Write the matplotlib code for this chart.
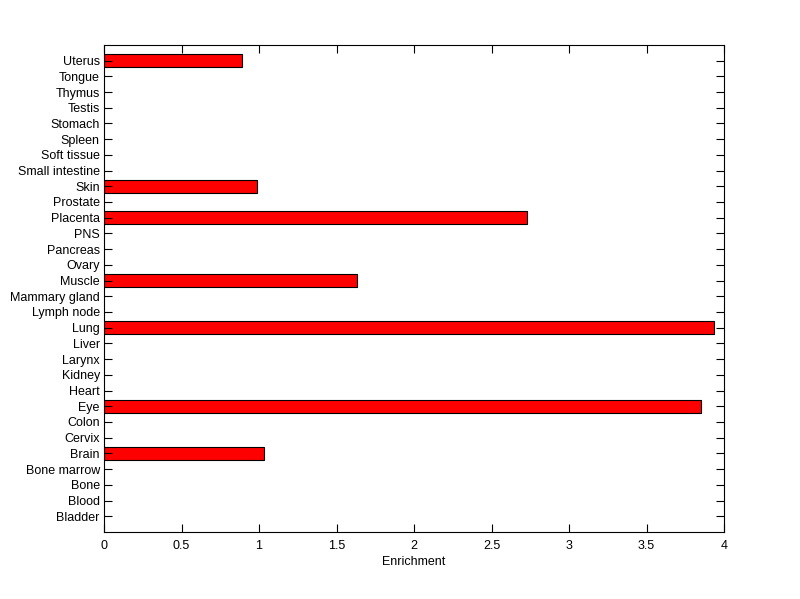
import numpy as np
import matplotlib
matplotlib.use("Agg")
import matplotlib.pyplot as plt

tissues = ["Bladder", "Blood", "Bone", "Bone marrow", "Brain", "Cervix", "Colon",
           "Eye", "Heart", "Kidney", "Larynx", "Liver", "Lung", "Lymph node",
           "Mammary gland", "Muscle", "Ovary", "Pancreas", "PNS", "Placenta",
           "Prostate", "Skin", "Small intestine", "Soft tissue", "Spleen",
           "Stomach", "Testis", "Thymus", "Tongue", "Uterus"]
enrichment = [0, 0, 0, 0, 1.03, 0, 0,
              3.85, 0, 0, 0, 0, 3.935, 0,
              0, 1.63, 0, 0, 0, 2.73,
              0, 0.985, 0, 0, 0,
              0, 0, 0, 0, 0.89]

plt.rcParams['font.family'] = ['Liberation Sans', 'DejaVu Sans']

fig = plt.figure(figsize=(8, 5.99), dpi=100)
ax = fig.add_axes([0.13, 0.1119, 0.775, 0.8132])

pos = np.arange(1, len(tissues) + 1)
vals = np.array(enrichment)
mask = vals > 0
ax.barh(pos[mask], vals[mask], height=0.8, color="red", edgecolor="black", linewidth=0.8)

ax.set_xlim(0, 4)
ax.set_ylim(0, len(tissues) + 1)
ax.set_xticks(np.arange(0, 4.01, 0.5))
ax.set_xticklabels(["0", "0.5", "1", "1.5", "2", "2.5", "3", "3.5", "4"])
ax.set_yticks(pos)
ax.set_yticklabels(tissues)
ax.tick_params(direction="in", top=True, right=True, length=5.5, width=0.8,
               labelsize=9, pad=3)
ax.tick_params(axis="x", pad=6)
for s in ax.spines.values():
    s.set_linewidth(0.8)
ax.set_xlabel("Enrichment", fontsize=9, labelpad=3)

fig.savefig("out.png", dpi=100)
